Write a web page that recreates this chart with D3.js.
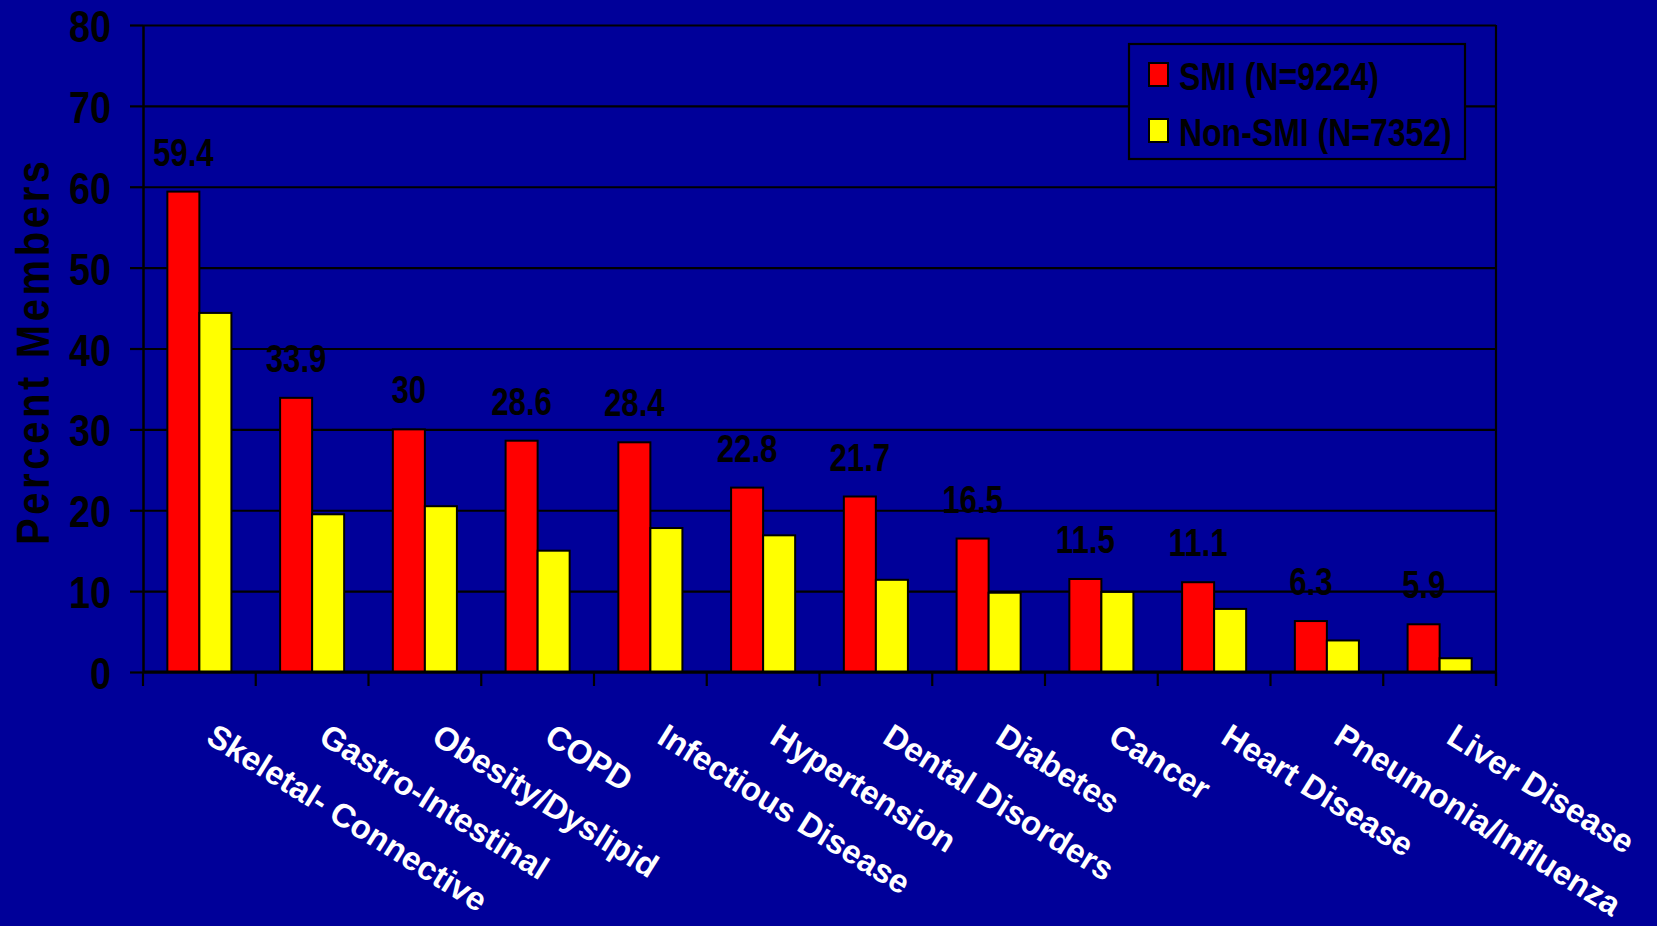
<!DOCTYPE html>
<html>
<head>
<meta charset="utf-8">
<script src="https://cdn.jsdelivr.net/npm/d3@7"></script>
<style>
  html, body { margin: 0; padding: 0; background: #000099; }
  svg { display: block; }
  text { font-family: "Liberation Sans", Arial, sans-serif; font-weight: bold; }
</style>
</head>
<body>
<svg id="chart" width="1657" height="926"></svg>
<script>
// Chronic conditions: percent of members, SMI vs non-SMI
const categories = [
  "Skeletal- Connective", "Gastro-Intestinal", "Obesity/Dyslipid", "COPD",
  "Infectious Disease", "Hypertension", "Dental Disorders", "Diabetes",
  "Cancer", "Heart Disease", "Pneumonia/Influenza", "Liver Disease"
];
const seriesNames = ["SMI (N=9224)", "Non-SMI (N=7352)"];
const smiValues    = [59.4, 33.9, 30, 28.6, 28.4, 22.8, 21.7, 16.5, 11.5, 11.1, 6.3, 5.9];
const nonSmiValues = [44.4, 19.5, 20.5, 15.0, 17.8, 16.9, 11.4, 9.8, 9.9, 7.8, 3.9, 1.7];
const yTicks = [0, 10, 20, 30, 40, 50, 60, 70, 80];
const yTitle = "Percent Members";

const colors = { "SMI (N=9224)": "#ff0000", "Non-SMI (N=7352)": "#ffff00" };

const svg = d3.select("#chart");
svg.append("rect").attr("width", 1657).attr("height", 926).attr("fill", "#000099");

const plotLeft = 143, plotRight = 1496, plotTop = 25, plotBottom = 672;

const x0 = d3.scaleBand().domain(categories).range([plotLeft, plotRight]).paddingInner(0).paddingOuter(0);
const x1 = d3.scaleBand().domain(seriesNames).range([0, x0.bandwidth()]).paddingInner(0).paddingOuter(0.76);
const y = d3.scaleLinear().domain([0, 80]).range([plotBottom, plotTop]);

// Horizontal gridlines
const grid = svg.append("g").attr("transform", `translate(${plotLeft},0)`)
  .call(d3.axisLeft(y).tickValues(yTicks).tickSize(-(plotRight - plotLeft)).tickFormat(""));
grid.select(".domain").remove();
grid.selectAll("line").attr("stroke", "#000").attr("stroke-width", 2.2);

// Left axis with outward tick stubs and labels
const yAxis = svg.append("g").attr("transform", `translate(${plotLeft},0)`)
  .call(d3.axisLeft(y).tickValues(yTicks).tickSize(13).tickSizeOuter(0));
yAxis.select(".domain").attr("stroke", "#000").attr("stroke-width", 2.5);
yAxis.selectAll("line").attr("stroke", "#000").attr("stroke-width", 2.2);
yAxis.selectAll("text")
  .attr("x", 0).attr("dy", null)
  .attr("fill", "#000")
  .attr("text-anchor", "end")
  .style("font-size", "45px")
  .attr("transform", "translate(-32,16.5) scale(0.84,1)");

// Bars
const rows = categories.map((c, i) => ({ cat: c, vals: [smiValues[i], nonSmiValues[i]] }));
const groups = svg.append("g").selectAll("g").data(rows).join("g")
  .attr("transform", d => `translate(${x0(d.cat)},0)`);
groups.selectAll("rect")
  .data(d => d.vals.map((v, j) => ({ key: seriesNames[j], value: v })))
  .join("rect")
  .attr("x", d => x1(d.key))
  .attr("width", x1.bandwidth())
  .attr("y", d => y(d.value))
  .attr("height", d => y(0) - y(d.value))
  .attr("fill", d => colors[d.key])
  .attr("stroke", "#000")
  .attr("stroke-width", 2);

// Value labels over SMI bars
svg.append("g").selectAll("text").data(rows).join("text")
  .attr("text-anchor", "middle")
  .attr("fill", "#000")
  .style("font-size", "39px")
  .attr("transform", d => `translate(${x0(d.cat) + x1(seriesNames[0]) + x1.bandwidth() / 2},${y(d.vals[0]) - 26}) scale(0.8,1)`)
  .text(d => String(d.vals[0]));

// Category axis: baseline, boundary ticks
svg.append("line").attr("x1", plotLeft).attr("x2", plotRight).attr("y1", y(0)).attr("y2", y(0))
  .attr("stroke", "#000").attr("stroke-width", 2.8);
const bounds = categories.map(c => x0(c)).concat([plotRight]);
svg.append("g").selectAll("line").data(bounds).join("line")
  .attr("x1", d => d).attr("x2", d => d)
  .attr("y1", y(0)).attr("y2", y(0) + 14)
  .attr("stroke", "#000").attr("stroke-width", 2.2);

// Right border of the plot area
svg.append("line").attr("x1", plotRight).attr("x2", plotRight).attr("y1", plotTop).attr("y2", y(0) + 14)
  .attr("stroke", "#000").attr("stroke-width", 2.2);

// Slanted category labels
svg.append("g").selectAll("text").data(categories).join("text")
  .attr("fill", "#fff")
  .attr("text-anchor", "start")
  .style("font-size", "33px")
  .attr("transform", c => `translate(${x0(c) + x0.bandwidth() / 2 + 5},742) rotate(32)`)
  .text(c => c);

// Y axis title
svg.append("text")
  .attr("fill", "#000")
  .attr("text-anchor", "middle")
  .style("font-size", "47px")
  .attr("textLength", 452)
  .attr("lengthAdjust", "spacing")
  .attr("transform", "translate(49,353) rotate(-90) scale(0.85,1)")
  .text(yTitle);

// Legend
const legend = svg.append("g");
legend.append("rect").attr("x", 1129).attr("y", 44).attr("width", 336).attr("height", 115)
  .attr("fill", "#000099").attr("stroke", "#000").attr("stroke-width", 2.2);
const items = legend.selectAll("g.item").data(seriesNames).join("g").attr("class", "item")
  .attr("transform", (d, i) => `translate(0,${i * 56})`);
items.append("rect").attr("x", 1149).attr("y", 63).attr("width", 19).attr("height", 23)
  .attr("fill", d => colors[d]).attr("stroke", "#000").attr("stroke-width", 2);
items.append("text")
  .attr("fill", "#000")
  .style("font-size", "39px")
  .attr("transform", "translate(1179,89.5) scale(0.82,1)")
  .text(d => d);
</script>
</body>
</html>
